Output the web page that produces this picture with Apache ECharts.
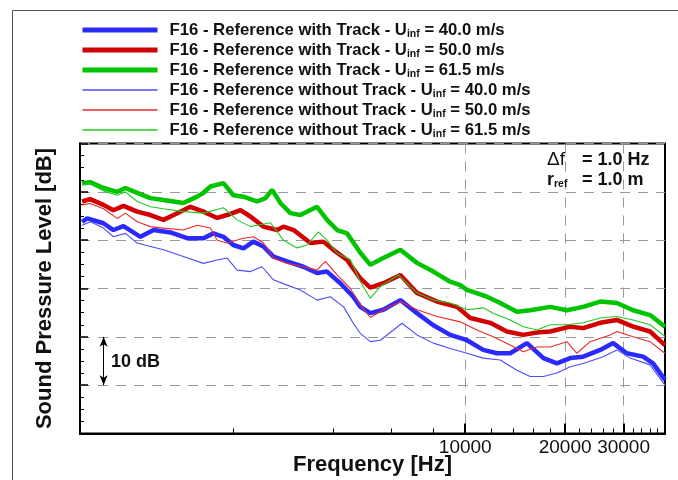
<!DOCTYPE html>
<html><head><meta charset="utf-8">
<script src="https://cdn.jsdelivr.net/npm/echarts@6/dist/echarts.min.js"></script>
<style>html,body{margin:0;padding:0;background:#fff}#c{width:678px;height:480px}</style>
</head><body><div id="c"></div>
<script>
const FREQ_MIN = 690, FREQ_MAX = 40000;
const majorTickFreqs = [10000, 20000, 30000];
const minorTickFreqs = [2000,4000,6000,8000,12000,14000,16000,18000,22000,24000,26000,28000,32000,34000,36000,38000];
const levelMin = 0, levelMax = 60, levelStep = 10;
const scaleBarFreq = 813;
const scaleBarLevels = [10, 20];

const seriesNames = [
  'F16 - Reference with Track - U_inf = 40.0 m/s',
  'F16 - Reference with Track - U_inf = 50.0 m/s',
  'F16 - Reference with Track - U_inf = 61.5 m/s',
  'F16 - Reference without Track - U_inf = 40.0 m/s',
  'F16 - Reference without Track - U_inf = 50.0 m/s',
  'F16 - Reference without Track - U_inf = 61.5 m/s'
];

const withTrack40 = [[700,43.8],[725,44.5],[812,43.5],[870,42.1],[933,42.9],[1050,40.7],[1149,42.1],[1293,41.6],[1451,40.4],[1625,40.4],[1742,41.4],[1867,40.7],[2000,39.0],[2145,38.3],[2298,39.7],[2464,38.7],[2641,36.6],[2904,35.6],[3251,34.5],[3575,33.2],[3832,33.5],[4202,31.1],[4598,28.3],[4829,26.2],[5175,24.9],[5662,25.6],[6372,27.6],[7152,24.9],[8012,22.4],[9012,20.4],[10119,19.3],[11330,17.3],[12459,16.6],[13661,16.6],[15340,18.7],[17210,15.6],[18889,14.5],[20717,15.6],[22667,15.9],[25507,17.3],[27915,18.7],[30690,16.6],[34363,15.9],[36832,14.5],[40000,11.1]];

const withTrack50 = [[700,48.0],[740,48.5],[812,47.3],[870,46.2],[933,47.1],[1026,45.9],[1125,45.2],[1231,44.2],[1322,45.2],[1485,46.9],[1625,45.9],[1787,44.6],[1915,45.2],[2101,46.2],[2251,44.9],[2464,42.8],[2710,42.1],[2831,42.8],[3040,42.1],[3413,39.4],[3735,39.7],[4003,38.0],[4402,35.9],[4829,32.1],[5175,30.2],[5662,31.1],[6372,32.8],[7152,29.1],[8219,27.3],[9441,26.2],[10353,23.9],[11893,22.9],[13352,21.1],[14952,20.4],[16443,20.9],[18031,21.1],[20717,22.1],[22667,21.8],[25507,22.9],[28638,23.5],[32063,22.1],[36069,21.1],[40000,18.3]];

const withTrack615 = [[700,51.8],[740,52.0],[812,50.8],[893,50.0],[946,50.8],[1026,49.8],[1125,48.7],[1231,48.3],[1414,47.7],[1555,49.0],[1625,49.8],[1706,51.1],[1867,51.8],[2000,49.3],[2145,49.0],[2358,48.0],[2500,48.7],[2618,50.4],[2773,47.7],[2971,45.6],[3184,45.2],[3575,46.9],[3832,44.2],[4108,42.1],[4402,41.4],[4829,37.4],[5175,34.9],[5662,36.3],[6372,38.0],[7152,35.3],[8012,33.5],[9012,31.4],[9659,30.7],[10119,29.7],[11624,28.3],[12746,27.0],[14311,25.2],[15697,25.5],[18031,26.2],[20245,25.5],[22667,26.2],[25507,27.3],[28638,27.0],[32063,25.5],[36069,24.5],[40000,22.1]];

const withoutTrack40 = [[700,43.1],[742,43.8],[812,42.5],[870,40.7],[946,41.4],[1026,39.4],[1125,38.7],[1231,38.0],[1414,36.6],[1625,35.2],[1787,35.9],[1915,36.3],[2053,33.8],[2251,33.5],[2441,34.5],[2641,31.8],[2904,30.7],[3184,29.7],[3575,27.6],[3921,28.3],[4299,26.2],[4598,22.8],[4829,20.7],[5175,19.0],[5546,19.3],[6447,22.8],[7152,20.4],[8012,18.7],[9012,17.6],[10119,16.6],[11330,15.6],[12746,15.2],[14311,13.1],[15697,11.8],[17210,11.8],[18889,12.5],[20717,13.8],[22667,14.5],[26045,15.9],[28638,17.3],[31405,15.6],[36069,14.2],[40000,10.0]];

const withoutTrack50 = [[700,47.3],[740,47.6],[812,46.5],[893,44.5],[946,45.6],[1026,43.8],[1125,42.8],[1231,42.5],[1414,42.1],[1555,43.1],[1706,42.5],[1787,40.0],[1915,39.4],[2145,40.4],[2298,40.7],[2464,39.4],[2641,36.3],[2904,35.2],[3251,34.5],[3575,33.8],[3787,35.6],[4108,32.8],[4503,30.0],[4829,26.6],[5175,24.0],[5662,25.6],[6372,27.3],[7152,25.6],[8219,24.2],[9659,23.1],[10844,21.4],[12145,20.0],[13661,18.3],[14952,16.9],[16443,17.9],[18031,17.9],[20245,19.0],[21697,16.6],[23793,19.0],[27337,20.4],[28638,21.1],[32063,20.0],[36069,19.0],[40000,16.6]];

const withoutTrack615 = [[700,51.4],[740,51.6],[812,50.2],[893,49.3],[946,50.0],[1026,48.0],[1125,46.9],[1231,46.5],[1414,45.9],[1625,45.6],[1867,46.7],[2053,44.2],[2251,42.8],[2358,43.1],[2587,43.6],[2831,40.0],[3113,38.4],[3335,39.0],[3608,41.7],[3832,40.0],[4108,37.3],[4503,36.0],[4829,31.4],[5175,28.0],[5546,30.4],[6284,32.8],[7152,29.1],[8012,27.6],[9012,27.0],[10119,25.6],[11330,26.0],[12145,24.9],[13661,23.5],[14952,22.1],[16443,21.4],[18031,22.5],[20245,22.5],[22667,22.9],[25507,23.9],[28638,24.2],[32063,23.5],[36069,22.5],[40000,20.1]];

const seriesData = [withTrack40, withTrack50, withTrack615, withoutTrack40, withoutTrack50, withoutTrack615];
const seriesColors = ['#2a2aff', '#d20000', '#00c400', '#4c4cff', '#e82a2a', '#22c822'];
const seriesWidths = [4.5, 4.5, 4.5, 1.1, 1.1, 1.1];

const lg = Math.log10;
const FONT = '"Liberation Sans", Arial, sans-serif';
const toXY = arr => arr.map(p => [lg(p[0]), p[1]]);

const series = seriesData.map((d, i) => ({
  name: seriesNames[i],
  type: 'line',
  xAxisIndex: 0,
  data: toXY(d),
  symbol: 'none',
  showSymbol: false,
  smooth: false,
  z: i < 3 ? 3 : 4,
  lineStyle: { color: seriesColors[i], width: seriesWidths[i] },
  itemStyle: { color: seriesColors[i] },
  emphasis: { disabled: true },
  silent: true
}));
series[0].markLine = {
  silent: true,
  symbol: ['arrow', 'arrow'],
  symbolSize: [6, 10],
  label: { show: false },
  lineStyle: { color: '#000', width: 1, type: 'solid' },
  data: [[{ coord: [lg(scaleBarFreq), scaleBarLevels[1]] }, { coord: [lg(scaleBarFreq), scaleBarLevels[0]] }]]
};

const chart = echarts.init(document.getElementById('c'));
chart.setOption({
  animation: false,
  backgroundColor: '#fff',
  grid: { left: 80, right: 13, top: 143.5, bottom: 46.5, show: true, borderColor: '#000', borderWidth: 2, backgroundColor: 'transparent', containLabel: false, outerBoundsMode: 'none' },
  legend: {
    orient: 'vertical', left: 80, top: 20, padding: 0,
    itemWidth: 75, itemHeight: 20, itemGap: 0,
    selectedMode: false,
    itemStyle: { opacity: 0 },
    data: seriesNames.map((n, i) => ({ name: n, lineStyle: { color: seriesColors[i], width: i < 3 ? 5 : 1.3 } })),
    formatter: name => {
      const parts = name.split('U_inf');
      return '{f|' + parts[0] + 'U}{s|inf}{n|' + parts[1] + '}';
    },
    textStyle: {
      color: '#111', fontFamily: FONT, fontWeight: 'bold', fontSize: 16.7, lineHeight: 20,
      rich: {
        f: { fontFamily: FONT, fontWeight: 'bold', fontSize: 16.7, lineHeight: 20, padding: [0, 0, 0, 7], color: '#111' },
        n: { fontFamily: FONT, fontWeight: 'bold', fontSize: 16.7, lineHeight: 20, color: '#111' },
        s: { fontFamily: FONT, fontWeight: 'bold', fontSize: 10.5, lineHeight: 12, verticalAlign: 'bottom', color: '#111' }
      }
    }
  },
  xAxis: [{
    type: 'value', min: lg(FREQ_MIN), max: lg(FREQ_MAX), position: 'bottom',
    name: 'Frequency [Hz]', nameLocation: 'middle', nameGap: 20, nameMoveOverlap: false,
    nameTextStyle: { fontFamily: FONT, fontWeight: 'bold', fontSize: 22, color: '#111', verticalAlign: 'top' },
    axisLine: { show: true, lineStyle: { color: '#000', width: 2 } },
    axisTick: { show: true, inside: true, length: 10, customValues: majorTickFreqs.map(lg), lineStyle: { color: '#000', width: 2 } },
    axisLabel: { show: true, margin: 5, customValues: majorTickFreqs.map(lg), formatter: v => String(Math.round(Math.pow(10, v))), fontFamily: FONT, fontSize: 19, color: '#111' },
    splitLine: { show: true, lineStyle: { type: [10, 8], color: '#999', width: 1 } }
  }, {
    type: 'value', min: lg(FREQ_MIN), max: lg(FREQ_MAX), position: 'bottom',
    axisLine: { show: false },
    axisTick: { show: true, inside: true, length: 5, customValues: minorTickFreqs.map(lg), lineStyle: { color: '#000', width: 1 } },
    axisLabel: { show: false },
    splitLine: { show: false }
  }],
  yAxis: {
    type: 'value', min: levelMin, max: levelMax, interval: levelStep,
    name: 'Sound Pressure Level [dB]', nameLocation: 'middle', nameRotate: 90, nameGap: 24, nameMoveOverlap: false,
    nameTextStyle: { fontFamily: FONT, fontWeight: 'bold', fontSize: 22, color: '#111' },
    axisLine: { show: true, lineStyle: { color: '#000', width: 2 } },
    axisTick: { show: true, inside: true, length: 8, lineStyle: { color: '#000', width: 1.5 } },
    minorTick: { show: true, splitNumber: 4, length: 4, lineStyle: { color: '#000', width: 1 } },
    axisLabel: { show: false },
    splitLine: { show: true, lineStyle: { type: [10, 8], color: '#999', width: 1 } }
  },
  graphic: [
    { type: 'line', shape: { x1: 12.5, y1: 10.5, x2: 678, y2: 10.5 }, style: { stroke: '#555', lineWidth: 1 }, silent: true },
    { type: 'line', shape: { x1: 12.5, y1: 10.5, x2: 12.5, y2: 480 }, style: { stroke: '#555', lineWidth: 1 }, silent: true },
    { type: 'text', x: 547, y: 160, style: { text: '\u0394f', font: 'normal 19px ' + FONT, fill: '#111', verticalAlign: 'middle' }, silent: true, z: 10 },
    { type: 'text', x: 582, y: 160, style: { text: '= 1.0 Hz', font: 'bold 18px ' + FONT, fill: '#111', verticalAlign: 'middle' }, silent: true, z: 10 },
    { type: 'text', x: 547, y: 180, style: { text: '{a|r}{b|ref}', verticalAlign: 'middle', rich: { a: { fontFamily: FONT, fontWeight: 'bold', fontSize: 18, lineHeight: 20, fill: '#111' }, b: { fontFamily: FONT, fontWeight: 'bold', fontSize: 10.5, lineHeight: 12, verticalAlign: 'bottom', fill: '#111' } } }, silent: true, z: 10 },
    { type: 'text', x: 582, y: 180, style: { text: '= 1.0 m', font: 'bold 18px ' + FONT, fill: '#111', verticalAlign: 'middle' }, silent: true, z: 10 },
    { type: 'text', x: 111, y: 362, style: { text: '10 dB', font: 'bold 18px ' + FONT, fill: '#111', verticalAlign: 'middle' }, silent: true, z: 10 }
  ],
  series: series
});
</script></body></html>
